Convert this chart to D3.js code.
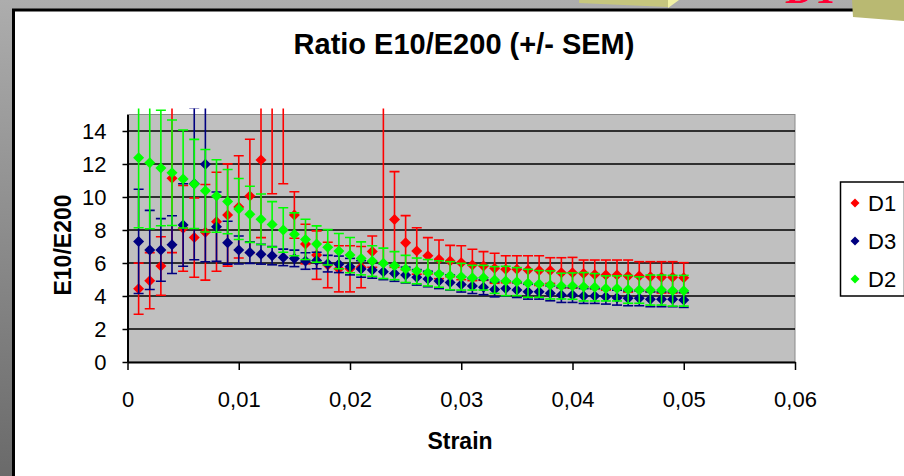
<!DOCTYPE html>
<html><head><meta charset="utf-8">
<script src="https://cdn.jsdelivr.net/npm/d3@7"></script>
<style>body{margin:0;background:#fff}svg{display:block}text{font-family:"Liberation Sans",Arial,sans-serif}</style>
</head><body><svg id="c" width="904" height="476"></svg>
<script>
const strain = [0.001,0.002,0.003,0.004,0.005,0.006,0.007,0.008,0.009,0.010,
  0.011,0.012,0.013,0.014,0.015,0.016,0.017,0.018,0.019,0.020,
  0.021,0.022,0.023,0.024,0.025,0.026,0.027,0.028,0.029,0.030,
  0.031,0.032,0.033,0.034,0.035,0.036,0.037,0.038,0.039,0.040,
  0.041,0.042,0.043,0.044,0.045,0.046,0.047,0.048,0.049,0.050];
const d1 = [4.44,4.93,5.82,11.13,8.1,7.54,7.86,8.5,8.91,9.4,10.06,12.24,16.0,16.0,8.91,7.15,6.48,5.88,5.65,5.65,
  5.75,6.69,20.0,8.64,7.23,6.73,6.44,6.22,6.12,6.02,5.88,5.82,5.68,5.62,5.62,5.58,5.54,5.54,5.41,5.41,
  5.37,5.31,5.27,5.27,5.21,5.21,5.17,5.13,5.13,5.11];
const d1Sem = [1.55,1.7,1.77,4.5,2.6,2.4,2.9,3.0,3.1,3.1,3.44,4.7,5.8,5.2,1.41,1.2,1.47,1.38,1.4,1.4,
  1.25,0.95,14.0,2.9,1.64,1.41,1.1,1.17,0.95,1.03,0.95,0.87,0.91,0.82,0.82,0.86,0.9,0.78,0.91,0.93,
  0.81,0.87,0.91,0.91,0.97,0.87,0.91,0.95,0.95,0.91];
const d3v = [7.31,6.79,6.79,7.11,8.3,10.8,11.98,8.2,7.23,6.79,6.63,6.53,6.44,6.34,6.28,6.12,6.15,5.96,5.92,5.78,
  5.64,5.58,5.47,5.37,5.27,5.13,5.03,4.91,4.82,4.7,4.6,4.53,4.4,4.46,4.36,4.26,4.26,4.16,4.06,4.06,
  4.0,4.0,3.96,3.9,3.86,3.86,3.8,3.8,3.8,3.76];
const d3Sem = [3.16,2.4,1.9,1.75,2.5,4.6,5.9,2.1,1.3,0.85,0.65,0.6,0.55,0.5,0.5,0.5,0.5,0.5,0.5,0.5,
  0.5,0.5,0.48,0.48,0.48,0.47,0.47,0.46,0.46,0.46,0.45,0.45,0.45,0.45,0.45,0.45,0.45,0.45,0.45,0.45,
  0.45,0.45,0.45,0.45,0.45,0.45,0.45,0.45,0.45,0.45];
const d2 = [12.38,12.08,11.76,11.47,11.09,10.79,10.38,10.06,9.72,9.27,8.95,8.65,8.34,8.0,7.74,7.43,7.15,6.95,6.72,6.48,
  6.28,6.12,5.98,5.84,5.64,5.52,5.41,5.33,5.23,5.17,5.11,5.11,4.97,4.91,4.87,4.77,4.73,4.67,4.6,4.6,
  4.56,4.53,4.46,4.46,4.4,4.36,4.36,4.36,4.32,4.32];
const d2Sem = [4.24,4.0,3.5,3.2,2.97,2.7,2.5,2.2,1.95,1.85,1.7,1.53,1.38,1.35,1.3,1.22,1.1,1.07,1.07,1.07,
  1.0,0.93,0.92,0.85,0.82,0.78,0.8,0.8,0.85,0.81,0.75,0.75,0.81,0.89,0.85,0.85,0.81,0.85,0.78,0.8,
  0.86,0.83,0.76,0.76,0.84,0.8,0.91,0.91,0.93,0.93];
const seriesNames = ["D1","D3","D2"];
const seriesColors = ["#ff0000","#000080","#00ff00"];
const xTicks = [0,0.01,0.02,0.03,0.04,0.05,0.06];
const yTicks = [0,2,4,6,8,10,12,14];
const chartTitle = "Ratio E10/E200 (+/- SEM)";
const xTitle = "Strain";
const yTitle = "E10/E200";

(function(){
const series = [
  {name:seriesNames[0], color:seriesColors[0], vals:d1, sem:d1Sem},
  {name:seriesNames[1], color:seriesColors[1], vals:d3v, sem:d3Sem},
  {name:seriesNames[2], color:seriesColors[2], vals:d2, sem:d2Sem}
];

const svg = d3.select("#c");
const defs = svg.append("defs");
const grad = defs.append("linearGradient").attr("id","bg").attr("x1",0).attr("y1",0).attr("x2",0).attr("y2",1);
grad.append("stop").attr("offset","0%").attr("stop-color","#adadad");
grad.append("stop").attr("offset","100%").attr("stop-color","#6a6a6a");
svg.append("rect").attr("width",904).attr("height",476).attr("fill","url(#bg)");

// top decorations
svg.append("polygon").attr("points","579,0 670,0 668,7 579,3").attr("fill","#c6c67e");
svg.append("polygon").attr("points","668,0 679,0 668,8").attr("fill","#f2f2a4");
svg.append("text").attr("x",786).attr("y",3).attr("fill","#ff0033").attr("font-size",40)
  .attr("font-weight","bold").attr("font-style","italic").style("font-family","'Liberation Serif',serif").text("DY");

// white chart area
svg.append("rect").attr("x",13.5).attr("y",10).attr("width",1000).attr("height",1000)
  .attr("fill","#fff").attr("stroke","#000").attr("stroke-width",3);
svg.append("polygon").attr("points","852,0 904,0 904,21 853,17").attr("fill","#b9b972");

const pL=127.5, pR=795, pT=114.5, pB=362;
const x = d3.scaleLinear().domain([0,0.06]).range([pL,pR]);
const y = d3.scaleLinear().domain([0,15]).range([pB,pT]);

svg.append("rect").attr("x",pL).attr("y",pT).attr("width",pR-pL).attr("height",pB-pT)
  .attr("fill","#c0c0c0").attr("stroke","#8a8a8a").attr("stroke-width",1);

// gridlines
svg.append("g").selectAll("line").data(yTicks.filter(d=>d>0)).join("line")
  .attr("x1",pL).attr("x2",pR).attr("y1",d=>y(d)).attr("y2",d=>y(d))
  .attr("stroke","#000").attr("stroke-width",1.5);

// axes
const fmt = d => d===0 ? "0" : d3.format(".2f")(d).replace(".",",");
const gx = svg.append("g").attr("transform",`translate(0,${pB})`)
  .call(d3.axisBottom(x).tickValues(xTicks).tickFormat(fmt).tickSize(8).tickPadding(21).tickSizeOuter(0));
const gy = svg.append("g").attr("transform",`translate(${pL},0)`)
  .call(d3.axisLeft(y).tickValues(yTicks).tickSize(5).tickPadding(16).tickSizeOuter(0));
[gx,gy].forEach(g=>{
  g.select(".domain").attr("stroke","#000").attr("stroke-width",2);
  g.selectAll(".tick line").attr("stroke","#000").attr("stroke-width",1.5);
  g.selectAll(".tick text").attr("font-size",22).attr("fill","#000").style("font-family","'Liberation Sans',Arial,sans-serif");
});

// clip
defs.append("clipPath").attr("id","eb").append("rect")
  .attr("x",pL).attr("y",pT-6).attr("width",pR-pL).attr("height",pB-pT+6);
defs.append("clipPath").attr("id","pa").append("rect")
  .attr("x",pL).attr("y",pT).attr("width",pR-pL).attr("height",pB-pT);

const diamond = r => `M0,${-r}L${r},0L0,${r}L${-r},0Z`;
const cap = 5;
series.forEach(s=>{
  const pts = s.vals.map((v,i)=>({x:strain[i], v, e:s.sem[i]}));
  const g = svg.append("g").attr("clip-path","url(#eb)");
  const eb = g.selectAll("g").data(pts).join("g").attr("stroke",s.color).attr("stroke-width",1.6);
  eb.append("line").attr("x1",d=>x(d.x)).attr("x2",d=>x(d.x)).attr("y1",d=>y(d.v+d.e)).attr("y2",d=>y(d.v-d.e));
  eb.append("line").attr("x1",d=>x(d.x)-cap).attr("x2",d=>x(d.x)+cap).attr("y1",d=>y(d.v+d.e)).attr("y2",d=>y(d.v+d.e));
  eb.append("line").attr("x1",d=>x(d.x)-cap).attr("x2",d=>x(d.x)+cap).attr("y1",d=>y(d.v-d.e)).attr("y2",d=>y(d.v-d.e));
  svg.append("g").attr("clip-path","url(#pa)").selectAll("path").data(pts.filter(d=>d.v<=15)).join("path")
    .attr("d",diamond(5.5)).attr("transform",d=>`translate(${x(d.x)},${y(d.v)})`).attr("fill",s.color);
});

// titles
svg.append("text").attr("x",464).attr("y",54).attr("text-anchor","middle").attr("font-size",29)
  .attr("font-weight","bold").text(chartTitle);
svg.append("text").attr("x",460).attr("y",449).attr("text-anchor","middle").attr("font-size",23)
  .attr("font-weight","bold").text(xTitle);
svg.append("text").attr("transform","translate(63,245) rotate(-90)").attr("text-anchor","middle")
  .attr("dominant-baseline","central").attr("font-size",23).attr("font-weight","bold").text(yTitle);

// legend
const lg = svg.append("g");
lg.append("rect").attr("x",840.5).attr("y",182).attr("width",64).attr("height",114)
  .attr("fill","#fff").attr("stroke","#000").attr("stroke-width",1.5);
series.forEach((s,i)=>{
  const cy = 203 + i*38;
  lg.append("path").attr("d",diamond(4.5)).attr("transform",`translate(855,${cy})`).attr("fill",s.color);
  lg.append("text").attr("x",868).attr("y",cy).attr("dominant-baseline","central").attr("font-size",22).text(s.name);
});
})();
</script></body></html>
